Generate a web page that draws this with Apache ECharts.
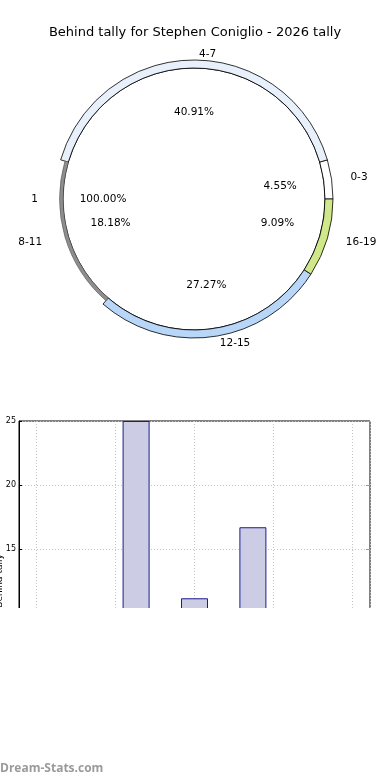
<!DOCTYPE html>
<html><head><meta charset="utf-8">
<script src="https://cdn.jsdelivr.net/npm/echarts@6/dist/echarts.min.js"></script>
<style>
html,body{margin:0;padding:0;background:#fff;}
#main{position:absolute;left:0;top:0;width:390px;height:780px;}
#barClip{position:absolute;left:0;top:400px;width:390px;height:208px;overflow:hidden;}
#bar{width:390px;height:360px;}
</style></head><body>
<div id="main"></div>
<div id="barClip"><div id="bar"></div></div>
<script>
const titleText = 'Behind tally for Stephen Coniglio - 2026 tally';
const innerCategories = ['1'];
const innerValues = [22];
const ringCategories = ['0-3', '4-7', '8-11', '12-15', '16-19'];
const ringValues = [1, 9, 4, 6, 2];
const barX = [1.26, 2.0, 2.74];
const barValues = [25, 11.15, 16.7];
const yTickInterval = 5;
const yMax = 25;
const yAxisName = 'Behind tally';
const watermark = 'Dream-Stats.com';

// styles (kept apart from the data)
const ringColors = ['#ffffff', '#e8f0fc', 'rgba(0,0,0,0)', '#b8d6f8', '#d0e88a'];
const ringLabelGap = [14, 6, 14, 7, 14];
const shadowSlice = '8-11';
const FONT = 'DejaVu Sans';
const CX = 194, CY = 199;
const pct = p => p.percent.toFixed(2) + '%';
const clear = 'rgba(0,0,0,0)';

const main = echarts.init(document.getElementById('main'), null, {renderer: 'canvas'});
main.setOption({
  animation: false,
  backgroundColor: '#fff',
  title: {
    text: titleText, left: 'center', top: 21,
    textStyle: {fontFamily: FONT, fontSize: 13, fontWeight: 'normal', color: '#000'}
  },
  graphic: [{
    type: 'text', left: 0, top: 763,
    style: {text: watermark, fill: '#9a9a9a', font: 'bold 12px "Open Sans"'}
  }],
  series: [
    {
      type: 'pie', center: [CX, CY], radius: [0, 131], startAngle: 0, clockwise: false,
      silent: true, avoidLabelOverlap: false, z: 2,
      data: innerCategories.map((n, i) => ({name: n, value: innerValues[i]})),
      itemStyle: {color: '#ffffff', borderColor: '#000', borderWidth: 0.9},
      label: {show: true, position: 'outside', formatter: '{b}', fontFamily: FONT, fontSize: 10.5, color: '#000', width: 30, overflow: 'none'},
      labelLine: {show: false, length: 20, length2: 0}
    },
    {
      type: 'pie', center: [CX, CY], radius: [131, 139], startAngle: 0, clockwise: false,
      silent: true, avoidLabelOverlap: false, z: 3,
      data: ringCategories.map((n, i) => ({
        name: n, value: ringValues[i],
        itemStyle: {color: ringColors[i], borderWidth: n === shadowSlice ? 0 : 0.8},
        labelLine: {length: ringLabelGap[i]}
      })),
      itemStyle: {borderColor: '#000'},
      label: {show: true, position: 'outside', formatter: '{b}', fontFamily: FONT, fontSize: 10.5, color: '#000', width: 40, overflow: 'none'},
      labelLine: {show: false, length: 8, length2: 0}
    },
    {
      type: 'pie', center: [CX, CY], radius: [131, 134.5], startAngle: 0, clockwise: false,
      silent: true, avoidLabelOverlap: false, z: 3,
      data: ringCategories.map((n, i) => ({
        name: n, value: ringValues[i],
        itemStyle: n === shadowSlice
          ? {color: '#8e8e8e', borderColor: '#555', borderWidth: 0.6}
          : {color: clear, borderWidth: 0}
      })),
      label: {show: false}, labelLine: {show: false}
    },
    {
      type: 'pie', center: [CX, CY], radius: [0, 168], startAngle: 0, clockwise: false,
      silent: true, avoidLabelOverlap: false, z: 4,
      data: ringCategories.map((n, i) => ({name: n, value: ringValues[i]})),
      itemStyle: {color: clear, borderWidth: 0},
      label: {show: true, position: 'inner', formatter: pct, fontFamily: FONT, fontSize: 10.5, color: '#000'},
      labelLine: {show: false}
    },
    {
      type: 'pie', center: [CX, CY], radius: [0, 176], startAngle: 0, clockwise: false,
      silent: true, avoidLabelOverlap: false, z: 4,
      data: innerCategories.map((n, i) => ({name: n, value: innerValues[i]})),
      itemStyle: {color: clear, borderWidth: 0},
      label: {show: true, position: 'inner', formatter: pct, fontFamily: FONT, fontSize: 10.5, color: '#000'},
      labelLine: {show: false}
    }
  ]
});

const gridCol = '#c4c4c4';
const dotted = {show: true, lineStyle: {color: gridCol, type: [1, 2], width: 1}};
const bar = echarts.init(document.getElementById('bar'), null, {renderer: 'canvas'});
bar.setOption({
  animation: false,
  grid: {left: 19, top: 21, width: 351, height: 320, outerBoundsMode: 'none', containLabel: false,
         show: true, borderColor: '#000', borderWidth: 1, backgroundColor: 'transparent'},
  xAxis: [{
    type: 'value', min: -0.224, max: 4.224, position: 'bottom',
    axisLabel: {show: false}, axisTick: {show: false}, axisLine: {show: false},
    splitLine: dotted
  }, {
    type: 'value', min: -0.224, max: 4.224, position: 'top',
    axisLabel: {show: false}, axisLine: {show: false}, splitLine: {show: false},
    axisTick: {show: true, inside: true, length: 4, lineStyle: {color: '#999'}}
  }],
  yAxis: [{
    type: 'value', min: 0, max: yMax, interval: yTickInterval, position: 'left',
    name: yAxisName, nameLocation: 'middle', nameGap: 15, nameMoveOverlap: false,
    nameTextStyle: {fontFamily: FONT, fontSize: 9, color: '#000'},
    axisLine: {show: true, onZero: false, lineStyle: {color: '#000', width: 1}},
    axisTick: {show: true, inside: true, length: 3, lineStyle: {color: '#000'}},
    axisLabel: {fontFamily: FONT, fontSize: 8, color: '#000', margin: 3},
    splitLine: dotted
  }, {
    type: 'value', min: 0, max: yMax, interval: yTickInterval, position: 'right',
    axisLine: {show: false, onZero: false}, axisLabel: {show: false}, splitLine: {show: false},
    axisTick: {show: true, inside: true, length: 4, lineStyle: {color: '#999'}}
  }],
  series: [{
    type: 'bar', barWidth: 27, xAxisIndex: 0, yAxisIndex: 0,
    data: barX.map((x, i) => [x, barValues[i]]),
    itemStyle: {color: '#cccce4', borderColor: '#1c1c8c', borderWidth: 1}
  }]
});
</script>
</body></html>
